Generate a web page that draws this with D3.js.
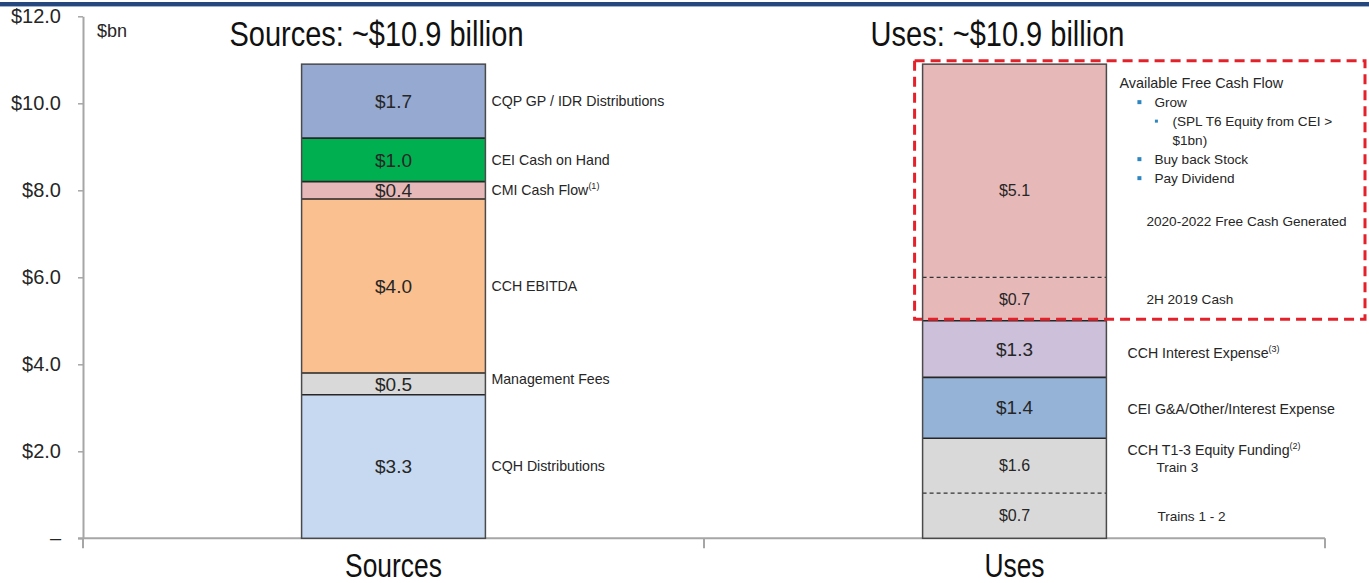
<!DOCTYPE html>
<html>
<head>
<meta charset="utf-8">
<script src="https://cdn.jsdelivr.net/npm/d3@7"></script>
<style>
  body { margin: 0; background: #fff; }
  svg { display: block; font-family: "Liberation Sans", Arial, sans-serif; }
</style>
</head>
<body>
<svg id="chart" width="1369" height="583"></svg>
<script>
// Data
var categories = ["Sources", "Uses"];
var titles = ["Sources: ~$10.9 billion", "Uses: ~$10.9 billion"];
var yTicks = [0, 2, 4, 6, 8, 10, 12];

// bottom to top
var sourceNames = ["CQH Distributions", "Management Fees", "CCH EBITDA", "CMI Cash Flow", "CEI Cash on Hand", "CQP GP / IDR Distributions"];
var sourceValues = [3.3, 0.5, 4.0, 0.4, 1.0, 1.7];
var sourceLabels = ["$3.3", "$0.5", "$4.0", "$0.4", "$1.0", "$1.7"];
var sourceNotes = ["", "", "", "(1)", "", ""];

var useNames = ["Trains 1 - 2", "Train 3", "CEI G&A/Other/Interest Expense", "CCH Interest Expense", "2H 2019 Cash", "2020-2022 Free Cash Generated"];
var useValues = [1.04, 1.26, 1.4, 1.3, 1.0, 4.9];
var useLabels = ["$0.7", "$1.6", "$1.4", "$1.3", "$0.7", "$5.1"];
var useNotes = ["", "", "", "(3)", "", ""];
var useSplit = [false, true, false, false, false, true]; // same block as the one below, dashed divider
var fundingHeader = "CCH T1-3 Equity Funding";
var fundingNote = "(2)";
var freeCashNotes = [
  { text: "Available Free Cash Flow", level: 0 },
  { text: "Grow", level: 1 },
  { text: "(SPL T6 Equity from CEI >", level: 2 },
  { text: "$1bn)", level: 3 },
  { text: "Buy back Stock", level: 1 },
  { text: "Pay Dividend", level: 1 }
];

// Styles
var sourceFills = ["#c6d9f1", "#d9d9d9", "#fac090", "#e6b9b8", "#00b050", "#95a9d1"];
var useFills = ["#d9d9d9", "#d9d9d9", "#95b3d7", "#ccc0da", "#e6b9b8", "#e6b9b8"];
var ink = "#262626";
var axisGrey = "#a6a6a6";

var svg = d3.select("#chart");

var x = d3.scaleBand().domain(categories).range([83, 1325])
    .paddingInner(0.704).paddingOuter(0.352);
var y = d3.scaleLinear().domain([0, 12]).range([538.3, 16.3]);

// Top rule
svg.append("rect").attr("x", 0).attr("y", 2).attr("width", 1369).attr("height", 4).attr("fill", "#26467e");
svg.append("rect").attr("x", 0).attr("y", 6).attr("width", 1369).attr("height", 1).attr("fill", "#9fb1cf");

// Y axis
var yAxis = svg.append("g")
    .attr("transform", "translate(" + x.range()[0] + ",0)")
    .call(d3.axisLeft(y).tickValues(yTicks).tickSize(5).tickSizeOuter(0).tickPadding(17)
        .tickFormat(function (d) { return d === 0 ? "\u2013" : "$" + d.toFixed(1); }));
yAxis.select(".domain").attr("stroke", axisGrey).attr("stroke-width", 2);
yAxis.selectAll(".tick line").attr("stroke", axisGrey).attr("stroke-width", 1.5);
yAxis.selectAll(".tick text").attr("fill", ink).attr("font-size", 20)
    .attr("font-family", "Liberation Sans, Arial, sans-serif");

svg.append("text").attr("x", 97).attr("y", 37).attr("font-size", 18).attr("fill", ink).text("$bn");

// X axis: baseline and boundary ticks
var step = x.step();
var xStart = x.range()[0];
svg.append("line").attr("x1", xStart - 5).attr("x2", x.range()[1])
    .attr("y1", y(0)).attr("y2", y(0)).attr("stroke", axisGrey).attr("stroke-width", 2);
svg.selectAll(".xb").data(d3.range(categories.length + 1)).enter().append("line")
    .attr("x1", function (i) { return xStart + i * step; })
    .attr("x2", function (i) { return xStart + i * step; })
    .attr("y1", y(0)).attr("y2", y(0) + 10)
    .attr("stroke", axisGrey).attr("stroke-width", 2);

function center(cat) { return x(cat) + x.bandwidth() / 2; }

// stretched text helper (titles are drawn tall)
function tallText(cx, by, size, k, txt) {
  svg.append("text").attr("transform", "translate(" + cx + "," + by + ") scale(1," + k + ")")
      .attr("text-anchor", "middle").attr("font-size", size).attr("fill", "#111").text(txt);
}
categories.forEach(function (c, i) {
  tallText(center(c) - 17, 45.5, 29, 1.2, titles[i]);
  tallText(center(c), 577, 26.4, 1.25, c);
});

function stackUp(values) {
  var tops = d3.cumsum(values);
  return values.map(function (v, i) { return { y0: tops[i] - v, y1: tops[i], i: i }; });
}

function drawBar(cat, values, fills, split) {
  var g = svg.append("g");
  var segs = stackUp(values);
  var x0 = x(cat), bw = x.bandwidth();
  g.selectAll("rect.seg").data(segs).enter().append("rect").attr("class", "seg")
      .attr("x", x0).attr("width", bw)
      .attr("y", function (d) { return y(d.y1); })
      .attr("height", function (d) { return y(d.y0) - y(d.y1); })
      .attr("fill", function (d) { return fills[d.i]; });
  g.selectAll("line.div").data(segs.slice(1)).enter().append("line").attr("class", "div")
      .attr("x1", x0).attr("x2", x0 + bw)
      .attr("y1", function (d) { return y(d.y0); })
      .attr("y2", function (d) { return y(d.y0); })
      .attr("stroke", function (d) { return split && split[d.i] ? "#333" : "#262626"; })
      .attr("stroke-width", function (d) { return split && split[d.i] ? 1.2 : 1.6; })
      .attr("stroke-dasharray", function (d) { return split && split[d.i] ? "4,3" : null; });
  g.append("rect").attr("x", x0).attr("width", bw)
      .attr("y", y(d3.sum(values))).attr("height", y(0) - y(d3.sum(values)))
      .attr("fill", "none").attr("stroke", "#4a4a4a").attr("stroke-width", 1.5);
  return segs;
}

function addNote(sel, note) {
  if (note) sel.append("tspan").attr("font-size", 9).attr("dy", -6).text(note);
}

// Sources
var sSegs = drawBar("Sources", sourceValues, sourceFills);
var sRight = x("Sources") + x.bandwidth();
svg.selectAll(".slab").data(sSegs).enter().append("text").attr("class", "slab")
    .attr("x", center("Sources"))
    .attr("y", function (d) { return y((d.y0 + d.y1) / 2); })
    .attr("dy", "0.35em").attr("text-anchor", "middle").attr("font-size", 19).attr("fill", ink)
    .text(function (d) { return sourceLabels[d.i]; });
svg.selectAll(".sname").data(sSegs).enter().append("text").attr("class", "sname")
    .attr("x", sRight + 6)
    .attr("y", function (d) { return y((d.y0 + d.y1) / 2) - (d.i === 1 ? 5 : 0); })
    .attr("dy", "0.35em").attr("font-size", 14.2).attr("fill", ink)
    .text(function (d) { return sourceNames[d.i]; })
    .each(function (d) { addNote(d3.select(this), sourceNotes[d.i]); });

// Uses
var uSegs = drawBar("Uses", useValues, useFills, useSplit);
var uRight = x("Uses") + x.bandwidth();
svg.selectAll(".ulab").data(uSegs).enter().append("text").attr("class", "ulab")
    .attr("x", center("Uses"))
    .attr("y", function (d) { return d.i === 5 ? y(d.y0 + 2) : y((d.y0 + d.y1) / 2); })
    .attr("dy", "0.35em").attr("text-anchor", "middle")
    .attr("font-size", function (d) { return (useSplit[d.i] || useSplit[d.i + 1]) ? 16 : 19; })
    .attr("fill", ink)
    .text(function (d) { return useLabels[d.i]; });

var uNameX = [51, 50, 21, 21, 40, 40];
svg.selectAll(".uname").data(uSegs).enter().append("text").attr("class", "uname")
    .attr("x", function (d) { return uRight + uNameX[d.i]; })
    .attr("y", function (d) {
      if (d.i === 5) return y(d.y0) - 56;
      return y((d.y0 + d.y1) / 2) + [1, 2, 1.5, 4, 0][d.i];
    })
    .attr("dy", "0.35em")
    .attr("font-size", function (d) { return d.i === 2 || d.i === 3 ? 14.2 : 13.6; })
    .attr("fill", ink)
    .text(function (d) { return useNames[d.i]; })
    .each(function (d) { addNote(d3.select(this), useNotes[d.i]); });

// Equity funding header
var hdr = svg.append("text").attr("x", uRight + 21)
    .attr("y", y((uSegs[1].y0 + uSegs[1].y1) / 2) - 16).attr("dy", "0.35em")
    .attr("font-size", 14.2).attr("fill", ink).text(fundingHeader);
addNote(hdr, fundingNote);

// Free cash bullets
var fcTop = y(d3.sum(useValues));
var indentText = [13, 48, 66, 66];
var indentBullet = [null, 33, 50, null];
freeCashNotes.forEach(function (n, i) {
  var ty = fcTop + 19 + i * 19;
  svg.append("text").attr("x", uRight + indentText[n.level]).attr("y", ty).attr("dy", "0.35em")
      .attr("font-size", n.level === 0 ? 14.4 : 13.6).attr("fill", ink).text(n.text);
  if (indentBullet[n.level] !== null) {
    var s = n.level === 1 ? 4 : 3;
    svg.append("rect").attr("x", uRight + indentBullet[n.level] - s / 2).attr("y", ty - s / 2)
        .attr("width", s).attr("height", s).attr("fill", "#2e86c1");
  }
});

// Red dashed highlight around available free cash
var fcBottom = y(uSegs[4].y0);
svg.append("rect")
    .attr("x", x("Uses") - 8).attr("y", fcTop - 3.5)
    .attr("width", 1365 - (x("Uses") - 8)).attr("height", fcBottom - fcTop + 2)
    .attr("fill", "none").attr("stroke", "#e4202a").attr("stroke-width", 3)
    .attr("stroke-dasharray", "10,6");
</script>
</body>
</html>
